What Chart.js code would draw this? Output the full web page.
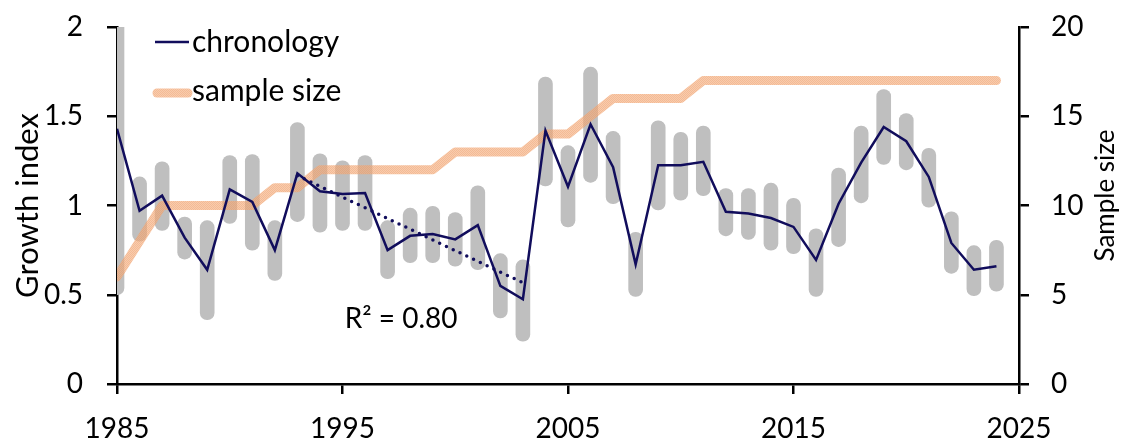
<!DOCTYPE html>
<html>
<head>
<meta charset="utf-8">
<script src="https://cdn.jsdelivr.net/npm/chart.js@4.4.1/dist/chart.umd.min.js"></script>
<style>
  html, body { margin: 0; padding: 0; background: #ffffff; }
  #wrap { width: 1126px; height: 442px; position: relative; }
</style>
</head>
<body>
<div id="wrap"><canvas id="chart"></canvas></div>
<script>
// Years of the record
const years = [1985, 1986, 1987, 1988, 1989, 1990, 1991, 1992, 1993, 1994,
               1995, 1996, 1997, 1998, 1999, 2000, 2001, 2002, 2003, 2004,
               2005, 2006, 2007, 2008, 2009, 2010, 2011, 2012, 2013, 2014,
               2015, 2016, 2017, 2018, 2019, 2020, 2021, 2022, 2023, 2024];

// Ring-width chronology (growth index)
const chronology = [1.43, 0.97, 1.055, 0.82, 0.64, 1.09, 1.02, 0.75, 1.18, 1.08,
                    1.065, 1.07, 0.75, 0.83, 0.84, 0.81, 0.89, 0.55, 0.475, 1.42,
                    1.105, 1.455, 1.215, 0.67, 1.225, 1.225, 1.245, 0.965, 0.955, 0.93,
                    0.88, 0.695, 1.01, 1.24, 1.44, 1.36, 1.16, 0.79, 0.64, 0.66];

// Spread of the individual series around the chronology
const rangeLow  = [0.50, 0.80, 0.86, 0.70, 0.36, 0.90, 0.75, 0.58, 0.91, 0.85,
                   0.86, 0.86, 0.59, 0.68, 0.68, 0.66, 0.64, 0.37, 0.24, 1.11,
                   0.88, 1.13, 1.01, 0.49, 0.975, 1.03, 1.055, 0.83, 0.81, 0.75,
                   0.73, 0.49, 0.77, 1.015, 1.23, 1.20, 0.99, 0.62, 0.495, 0.52];
const rangeHigh = [2.15, 1.16, 1.245, 0.935, 0.915, 1.28, 1.285, 0.915, 1.465, 1.29,
                   1.25, 1.28, 0.915, 0.985, 0.995, 0.96, 1.11, 0.73, 0.695, 1.72,
                   1.335, 1.775, 1.415, 0.85, 1.475, 1.41, 1.445, 1.095, 1.095, 1.125,
                   1.04, 0.87, 1.21, 1.445, 1.65, 1.515, 1.32, 0.965, 0.775, 0.805];

// Number of trees in the chronology each year
const sampleSize = [6, 8, 10, 10, 10, 10, 10, 11, 11, 12,
                    12, 12, 12, 12, 12, 13, 13, 13, 13, 14,
                    14, 15, 16, 16, 16, 16, 17, 17, 17, 17,
                    17, 17, 17, 17, 17, 17, 17, 17, 17, 17];

// Axis ticks
const xTicks = [1985, 1995, 2005, 2015, 2025];
const yTicks = [0, 0.5, 1, 1.5, 2];
const y2Ticks = [0, 5, 10, 15, 20];

// Period of the linear trend
const trendStart = 1993;
const trendEnd = 2003;

// Least-squares trend of the chronology over the trend period
function linearFit(xs, ys) {
  const n = xs.length;
  const mx = xs.reduce((a, b) => a + b, 0) / n;
  const my = ys.reduce((a, b) => a + b, 0) / n;
  let sxy = 0, sxx = 0, syy = 0;
  for (let i = 0; i < n; i++) {
    sxy += (xs[i] - mx) * (ys[i] - my);
    sxx += (xs[i] - mx) ** 2;
    syy += (ys[i] - my) ** 2;
  }
  const slope = sxy / sxx;
  return { slope, intercept: my - slope * mx, r2: (sxy * sxy) / (sxx * syy) };
}
const trendYears = years.filter(y => y >= trendStart && y <= trendEnd);
const trendVals = trendYears.map(y => chronology[years.indexOf(y)]);
const fit = linearFit(trendYears, trendVals);
const trendPoints = [trendStart, trendEnd].map(x => ({ x, y: fit.intercept + fit.slope * x }));

const FONT = 'Lato, "Open Sans", sans-serif';
const NAVY = '#110d5c';
const GREY = '#bfbfbf';

// Grainy peach fill for the sample-size line
function peachPattern() {
  const c = document.createElement('canvas');
  c.width = 2; c.height = 2;
  const g = c.getContext('2d');
  g.fillStyle = 'rgba(244,172,122,0.62)';
  g.fillRect(0, 0, 2, 2);
  g.clearRect(0, 0, 1, 1);
  g.clearRect(1, 1, 1, 1);
  g.fillStyle = 'rgba(240,160,108,0.72)';
  g.fillRect(0, 0, 1, 1);
  g.fillRect(1, 1, 1, 1);
  return g.createPattern(c, 'repeat');
}
const PEACH = peachPattern();

// Legend, axis titles and R² note
const annotations = {
  id: 'annotations',
  afterDatasetsDraw(chart) {
    const ctx = chart.ctx;
    const area = chart.chartArea;
    ctx.save();
    ctx.fillStyle = '#000';

    // legend
    ctx.lineCap = 'butt';
    ctx.strokeStyle = NAVY;
    ctx.lineWidth = 2.5;
    ctx.beginPath(); ctx.moveTo(155, 42); ctx.lineTo(189, 42); ctx.stroke();
    ctx.strokeStyle = PEACH;
    ctx.lineWidth = 9;
    ctx.lineCap = 'round';
    ctx.beginPath(); ctx.moveTo(157, 93); ctx.lineTo(188, 93); ctx.stroke();
    ctx.font = '30px ' + FONT;
    ctx.textAlign = 'left';
    ctx.textBaseline = 'alphabetic';
    ctx.fillText('chronology', 192, 52);
    ctx.fillText('sample size', 192, 101);

    // R² of the trend
    const xs = chart.scales.x;
    ctx.font = '28px ' + FONT;
    ctx.textAlign = 'center';
    ctx.fillText('R\u00B2 = ' + fit.r2.toFixed(2), xs.getPixelForValue(1997.6), 328);

    // axis titles
    const midY = (area.top + area.bottom) / 2;
    ctx.textAlign = 'center';
    ctx.textBaseline = 'middle';
    ctx.save();
    ctx.translate(28, midY);
    ctx.rotate(-Math.PI / 2);
    ctx.font = '31px ' + FONT;
    ctx.fillText('Growth index', 0, 0);
    ctx.restore();
    ctx.save();
    ctx.translate(1106, midY - 10);
    ctx.rotate(-Math.PI / 2);
    ctx.font = '26px ' + FONT;
    ctx.fillText('Sample size', 0, 0);
    ctx.restore();

    ctx.restore();
  }
};

const axisGrid = {
  drawOnChartArea: false,
  drawTicks: true,
  tickLength: 10,
  color: '#000',
  lineWidth: 2.5
};
const axisBorder = { display: true, color: '#000', width: 2.5 };
const tickFont = { family: FONT, size: 28 };

// Fixed width for a vertical axis; its labels may overhang the plot edges
function fixVertical(width) {
  return function (scale) {
    scale.width = width;
    scale.paddingTop = 0;
    scale.paddingBottom = 0;
  };
}

new Chart(document.getElementById('chart'), {
  type: 'bar',
  data: {
    datasets: [
      {
        type: 'line',
        label: 'trend',
        data: trendPoints,
        borderColor: NAVY,
        borderWidth: 3.5,
        borderDash: [0, 7.5],
        borderCapStyle: 'round',
        pointRadius: 0,
        fill: false,
        order: 1,
        xAxisID: 'x', yAxisID: 'y'
      },
      {
        type: 'line',
        label: 'chronology',
        data: years.map((x, i) => ({ x, y: chronology[i] })),
        borderColor: NAVY,
        borderWidth: 2.5,
        pointRadius: 0,
        tension: 0,
        fill: false,
        order: 2,
        xAxisID: 'x', yAxisID: 'y'
      },
      {
        type: 'line',
        label: 'sample size',
        data: years.map((x, i) => ({ x, y: sampleSize[i] })),
        borderColor: PEACH,
        borderWidth: 9,
        borderCapStyle: 'round',
        borderJoinStyle: 'round',
        pointRadius: 0,
        tension: 0,
        fill: false,
        order: 3,
        xAxisID: 'x', yAxisID: 'y2'
      },
      {
        type: 'bar',
        label: 'range',
        data: years.map((x, i) => ({ x, y: [rangeLow[i], rangeHigh[i]] })),
        backgroundColor: GREY,
        borderWidth: 0,
        borderSkipped: false,
        borderRadius: 7,
        barThickness: 14,
        grouped: false,
        order: 4,
        xAxisID: 'x', yAxisID: 'y'
      }
    ]
  },
  options: {
    responsive: true,
    maintainAspectRatio: false,
    animation: false,
    events: [],
    layout: { padding: { top: 27, left: 0, right: 0, bottom: 0 } },
    plugins: { legend: { display: false }, tooltip: { enabled: false } },
    scales: {
      x: {
        type: 'linear',
        position: 'bottom',
        min: xTicks[0],
        max: xTicks[xTicks.length - 1],
        offset: false,
        grid: Object.assign({ offset: false }, axisGrid),
        border: axisBorder,
        afterBuildTicks(scale) { scale.ticks = xTicks.map(v => ({ value: v })); },
        afterFit(scale) { scale.height = 58; scale.paddingLeft = 0; scale.paddingRight = 0; },
        ticks: {
          font: tickFont, color: '#000', padding: 18, maxRotation: 0,
          callback: v => String(v)
        }
      },
      y: {
        type: 'linear',
        position: 'left',
        min: 0, max: 2,
        grid: axisGrid,
        border: axisBorder,
        afterBuildTicks(scale) { scale.ticks = yTicks.map(v => ({ value: v })); },
        afterFit: fixVertical(117),
        ticks: { font: tickFont, color: '#000', padding: 24, callback: v => String(v) }
      },
      y2: {
        type: 'linear',
        position: 'right',
        min: 0, max: 20,
        grid: axisGrid,
        border: axisBorder,
        afterBuildTicks(scale) { scale.ticks = y2Ticks.map(v => ({ value: v })); },
        afterFit: fixVertical(107),
        ticks: { font: tickFont, color: '#000', padding: 22, callback: v => String(v) }
      }
    }
  },
  plugins: [annotations]
});
</script>
</body>
</html>
